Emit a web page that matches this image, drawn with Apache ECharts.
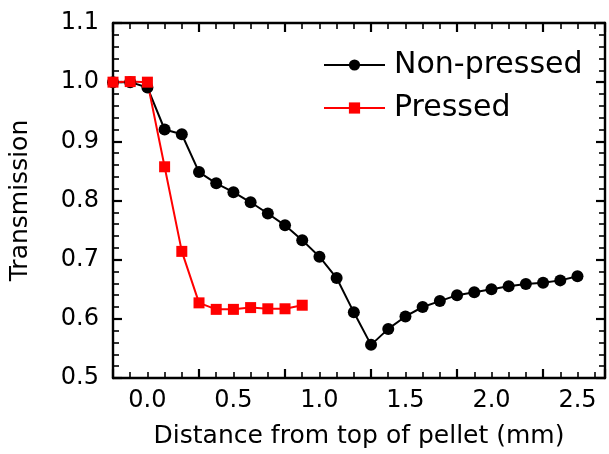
<!DOCTYPE html>
<html>
<head>
<meta charset="utf-8">
<script src="https://cdn.jsdelivr.net/npm/echarts@6/dist/echarts.min.js"></script>
<style>html,body{margin:0;padding:0;background:#fff}#c{width:609px;height:454px}</style>
</head>
<body>
<div id="c"></div>
<script>
const xNonPressed = [-0.2,-0.1,0.0,0.1,0.2,0.3,0.4,0.5,0.6,0.7,0.8,0.9,1.0,1.1,1.2,1.3,1.4,1.5,1.6,1.7,1.8,1.9,2.0,2.1,2.2,2.3,2.4,2.5];
const yNonPressed = [1.0,1.0,0.991,0.92,0.912,0.848,0.829,0.814,0.797,0.778,0.758,0.733,0.705,0.669,0.611,0.556,0.583,0.604,0.620,0.630,0.640,0.645,0.650,0.655,0.659,0.661,0.665,0.672];
const xPressed = [-0.2,-0.1,0.0,0.1,0.2,0.3,0.4,0.5,0.6,0.7,0.8,0.9];
const yPressed = [1.0,1.001,1.0,0.857,0.714,0.627,0.616,0.616,0.619,0.617,0.617,0.623];
const seriesNames = ['Non-pressed','Pressed'];
const xTitle = 'Distance from top of pellet (mm)';
const yTitle = 'Transmission';

const FONT = 'DejaVu Sans';
const chart = echarts.init(document.getElementById('c'), null, {renderer:'canvas'});
const tickStyle = {show:true, inside:true, length:9, lineStyle:{color:'#000', width:2.2}};
const minorStyle = {show:true, splitNumber:5, length:6, lineStyle:{color:'#000', width:1.6}};
const axisLine = {show:true, onZero:false, lineStyle:{color:'#000', width:2.4}};
const xCommon = {type:'value', min:-0.2, max:2.66, interval:0.5, splitLine:{show:false}, axisLine:axisLine, axisTick:tickStyle};
const yCommon = {type:'value', min:0.5, max:1.1, interval:0.1, splitLine:{show:false}, axisLine:axisLine, axisTick:tickStyle};
chart.setOption({
  animation:false,
  grid:{left:112, right:4, top:23, bottom:71},
  legend:{
    orient:'vertical', left:318, top:45, itemWidth:61, itemHeight:14, itemGap:13,
    textStyle:{fontFamily:FONT, fontSize:30, color:'#000', padding:[0,0,0,4]},
    data:seriesNames
  },
  xAxis:[
    Object.assign({}, xCommon, {position:'bottom',
      minorTick:Object.assign({}, minorStyle, {splitNumber:5}),
      axisLabel:{show:true, fontFamily:FONT, fontSize:24, color:'#000', margin:11, formatter:v=>v.toFixed(1),
        customValues:[0,0.5,1.0,1.5,2.0,2.5]},
      name:xTitle, nameLocation:'middle', nameGap:46, nameTextStyle:{fontFamily:FONT, fontSize:25, color:'#000'}}),
    Object.assign({}, xCommon, {position:'top', minorTick:Object.assign({}, minorStyle, {splitNumber:5}), axisLabel:{show:false}})
  ],
  yAxis:[
    Object.assign({}, yCommon, {position:'left',
      minorTick:Object.assign({}, minorStyle, {splitNumber:5}),
      axisLabel:{show:true, fontFamily:FONT, fontSize:24, color:'#000', margin:14, formatter:v=>v.toFixed(1)},
      name:yTitle, nameLocation:'middle', nameGap:80, nameTextStyle:{fontFamily:FONT, fontSize:25, color:'#000'}}),
    Object.assign({}, yCommon, {position:'right', minorTick:Object.assign({}, minorStyle, {splitNumber:5}), axisLabel:{show:false}})
  ],
  series:[
    {name:seriesNames[0], type:'line', xAxisIndex:0, yAxisIndex:0,
      data:xNonPressed.map((x,i)=>[x,yNonPressed[i]]),
      symbol:'circle', symbolSize:12, showAllSymbol:true, clip:true,
      lineStyle:{color:'#000', width:2}, itemStyle:{color:'#000'}},
    {name:seriesNames[1], type:'line', xAxisIndex:0, yAxisIndex:0,
      data:xPressed.map((x,i)=>[x,yPressed[i]]),
      symbol:'rect', symbolSize:11, showAllSymbol:true, clip:true,
      lineStyle:{color:'#ff0000', width:2}, itemStyle:{color:'#ff0000'}}
  ]
});
</script>
</body>
</html>
